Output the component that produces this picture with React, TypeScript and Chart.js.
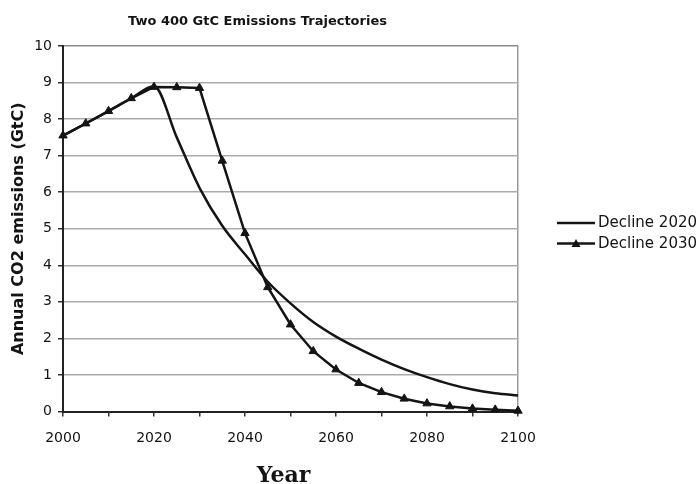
import { useEffect, useRef } from 'react';
import { Chart, registerables } from 'chart.js';

Chart.register(...registerables);

const chartTitle = 'Two 400 GtC Emissions Trajectories';
const xAxisTitle = 'Year';
const yAxisTitle = 'Annual CO2 emissions (GtC)';
const seriesNames = ['Decline 2020', 'Decline 2030'];

const years = [
  2000, 2005, 2010, 2015, 2020, 2025, 2030, 2035, 2040, 2045, 2050,
  2055, 2060, 2065, 2070, 2075, 2080, 2085, 2090, 2095, 2100,
];
const decline2020 = [
  7.55, 7.88, 8.22, 8.57, 8.9, 7.5, 6.12, 5.08, 4.3, 3.55, 2.96,
  2.45, 2.05, 1.72, 1.42, 1.16, 0.94, 0.75, 0.6, 0.5, 0.44,
];
const decline2030 = [
  7.55, 7.88, 8.22, 8.57, 8.88, 8.87, 8.85, 6.86, 4.88, 3.4, 2.38,
  1.65, 1.15, 0.78, 0.53, 0.35, 0.22, 0.14, 0.08, 0.05, 0.02,
];
const xLabelYears = [2000, 2020, 2040, 2060, 2080, 2100];

const INK = '#141414';

const overlayPlugin = {
  id: 'overlay',
  afterDraw(chart: any) {
    const { ctx, chartArea } = chart;
    ctx.save();
    ctx.fillStyle = INK;
    // title
    ctx.font = 'bold 13px "DejaVu Sans"';
    ctx.textAlign = 'center';
    ctx.textBaseline = 'alphabetic';
    ctx.fillText(chartTitle, chartArea.left + 194.5, chartArea.top - 21.5);

    // x axis title (serif, as in the reference)
    ctx.font = 'bold 22px "DejaVu Serif"';
    ctx.fillText(xAxisTitle, (chartArea.left + chartArea.right) / 2 - 7, chartArea.bottom + 70.5);

    // legend
    const lx = chartArea.right + 39;
    const lw = 38;
    const rows = [chartArea.top + 177, chartArea.top + 197.5];
    ctx.font = '15px "DejaVu Sans"';
    ctx.textAlign = 'left';
    ctx.textBaseline = 'middle';
    rows.forEach((y: number, i: number) => {
      ctx.strokeStyle = INK;
      ctx.lineWidth = 2.5;
      ctx.beginPath();
      ctx.moveTo(lx, y);
      ctx.lineTo(lx + lw, y);
      ctx.stroke();
      if (i === 1) {
        const cx = lx + lw / 2;
        const r = 4.5;
        ctx.beginPath();
        ctx.moveTo(cx, y - r);
        ctx.lineTo(cx + r, y + r * 0.75);
        ctx.lineTo(cx - r, y + r * 0.75);
        ctx.closePath();
        ctx.fill();
      }
      ctx.fillText(seriesNames[i], lx + lw + 3, y + 0.5);
    });
    ctx.restore();
  },
};

export default function App() {
  const canvasRef = useRef<HTMLCanvasElement | null>(null);

  useEffect(() => {
    if (!canvasRef.current) return;
    const chart = new Chart(canvasRef.current, {
      type: 'line',
      data: {
        datasets: [
          {
            label: seriesNames[1],
            data: years.map((x, i) => ({ x, y: decline2030[i] })),
            borderColor: INK,
            backgroundColor: INK,
            borderWidth: 2.5,
            pointStyle: 'triangle',
            pointRadius: 4.8,
            pointBorderWidth: 1,
            tension: 0,
            clip: false as any,
            order: 0,
          },
          {
            label: seriesNames[0],
            data: years.map((x, i) => ({ x, y: decline2020[i] })),
            borderColor: INK,
            backgroundColor: INK,
            borderWidth: 2.5,
            pointRadius: 0,
            cubicInterpolationMode: 'monotone',
            clip: false as any,
            order: 1,
          },
        ],
      },
      options: {
        animation: false,
        responsive: true,
        maintainAspectRatio: false,
        layout: { padding: { top: 46, right: 180, left: 0, bottom: 0 } },
        plugins: {
          legend: { display: false },
          title: { display: false },
          tooltip: { enabled: false },
        },
        scales: {
          x: {
            type: 'linear',
            min: 2000,
            max: 2100,
            afterFit: (scale: any) => {
              scale.height = 72.5;
            },
            ticks: {
              stepSize: 10,
              autoSkip: false,
              maxRotation: 0,
              padding: 13,
              color: INK,
              font: { family: '"DejaVu Sans"', size: 14 },
              callback: (v: any) => (xLabelYears.includes(Number(v)) ? String(v) : ''),
            },
            grid: {
              drawOnChartArea: true,
              color: (c: any) => (c.tick && c.tick.value === 2100 ? '#9a9a9a' : 'rgba(0,0,0,0)'),
              lineWidth: 1.5,
              tickColor: '#333',
              tickLength: 5,
            },
            border: { display: true, color: '#222', width: 2 },
          },
          y: {
            min: 0,
            max: 10,
            afterFit: (scale: any) => {
              scale.width = 63;
            },
            ticks: {
              stepSize: 1,
              padding: 6,
              color: INK,
              font: { family: '"DejaVu Sans"', size: 14 },
            },
            grid: {
              color: (c: any) => (c.tick && c.tick.value === 10 ? '#8a8a8a' : '#ababab'),
              lineWidth: 1.5,
              tickColor: '#333',
              tickLength: 5,
            },
            border: { display: true, color: '#222', width: 2 },
            title: {
              display: true,
              text: yAxisTitle,
              color: INK,
              font: { family: '"DejaVu Sans"', size: 16, weight: 'bold' },
              padding: { top: 9, bottom: 0 },
            },
          },
        },
      },
      plugins: [overlayPlugin],
    });
    return () => chart.destroy();
  }, []);

  return (
    <div style={{ position: 'fixed', left: 0, top: 0, width: 698, height: 484, background: '#fff' }}>
      <canvas ref={canvasRef} />
    </div>
  );
}
